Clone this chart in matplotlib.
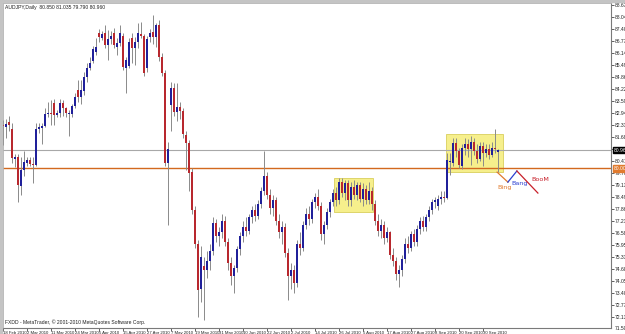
import matplotlib
matplotlib.use('Agg')
import matplotlib.pyplot as plt
from matplotlib import font_manager
from matplotlib.patches import Rectangle
from matplotlib.transforms import blended_transform_factory

# AUDJPY daily candles, 18 Feb 2010 .. early Oct 2010
title_text = 'AUDJPY,Daily  80.850 81.035 79.790 80.960'
footer_text = 'FXDD - MetaTrader, \u00a9 2001-2010 MetaQuotes Software Corp.'

opens = [
    82.30, 82.20, 82.45, 82.10, 80.50, 80.60, 79.05, 79.90, 80.30, 80.45,
    80.25, 80.20, 82.10, 82.15, 82.25, 82.90, 82.95, 83.45, 82.85, 82.95,
    83.45, 83.20, 82.90, 82.90, 83.30, 84.15, 83.80, 84.10, 84.85, 85.30,
    85.70, 86.15, 87.15, 86.90, 87.20, 86.55, 86.85, 87.20, 86.45, 86.65,
    87.00, 85.30, 85.45, 86.90, 86.40, 86.70, 87.10, 87.00, 85.30, 86.95,
    87.25, 86.95, 87.60, 85.90, 85.05, 80.30, 83.35, 84.25, 83.00, 83.25,
    83.05, 81.75, 81.35, 79.80, 77.80, 76.00, 73.60, 74.80, 74.60, 75.10,
    75.60, 77.10, 76.40, 76.60, 77.20, 76.10, 75.00, 74.30, 74.70, 75.70,
    76.40, 76.90, 76.70, 77.40, 77.80, 77.50, 78.10, 78.80, 79.60, 78.60,
    77.90, 78.30, 77.20, 76.60, 76.90, 75.50, 74.30, 74.60, 73.90, 76.00,
    75.80, 77.00, 77.60, 77.30, 78.20, 78.50, 78.00, 76.50, 77.00, 77.70,
    78.20, 78.70, 78.30, 79.30, 78.70, 79.20, 78.30, 79.00, 78.60, 79.10,
    78.40, 78.90, 78.30, 78.80, 78.10, 77.20, 76.70, 77.00, 76.30, 76.60,
    75.40, 75.10, 74.40, 74.60, 75.20, 76.00, 75.80, 76.50, 76.10, 76.80,
    77.20, 76.90, 77.40, 77.80, 78.20, 78.00, 78.40, 78.50, 78.45, 80.35,
    80.30, 81.35, 80.90, 80.10, 81.10, 81.30, 81.00, 81.40, 80.90, 80.50,
    81.20, 80.80, 81.00, 80.70, 81.10, 80.85,
]
highs = [
    82.55, 82.60, 82.80, 82.40, 80.75, 80.75, 80.60, 80.90, 80.60, 80.60,
    80.60, 82.40, 82.40, 82.40, 83.20, 83.50, 83.60, 83.70, 83.10, 83.70,
    83.60, 83.25, 83.10, 83.40, 84.00, 84.70, 84.70, 85.10, 85.60, 85.90,
    86.50, 86.90, 87.40, 87.30, 87.60, 87.35, 87.30, 87.45, 86.90, 87.60,
    87.20, 85.90, 86.90, 87.20, 86.95, 87.70, 87.75, 87.10, 87.00, 87.40,
    88.13, 87.70, 87.85, 86.10, 85.20, 81.40, 84.60, 84.50, 84.50, 83.50,
    83.20, 82.00, 81.50, 80.00, 78.00, 76.20, 75.90, 75.30, 75.60, 76.00,
    77.40, 77.30, 76.90, 77.60, 77.50, 76.30, 75.30, 74.90, 75.90, 76.60,
    77.20, 77.40, 77.60, 78.00, 78.10, 78.30, 79.00, 80.90, 79.80, 78.90,
    78.60, 78.50, 77.60, 77.20, 77.10, 75.80, 75.00, 74.90, 76.20, 76.60,
    77.20, 77.90, 78.00, 78.40, 78.70, 78.90, 78.20, 77.20, 77.90, 78.40,
    78.90, 79.00, 79.50, 79.50, 79.40, 79.40, 79.30, 79.40, 79.30, 79.30,
    79.20, 79.10, 79.30, 79.00, 78.30, 77.60, 77.30, 77.20, 76.90, 76.70,
    75.80, 75.30, 74.90, 75.40, 76.30, 76.40, 76.70, 76.80, 77.00, 77.40,
    77.50, 77.60, 78.00, 78.40, 78.50, 78.60, 78.80, 78.80, 80.80, 80.80,
    81.60, 81.60, 81.10, 81.30, 81.60, 81.55, 81.70, 81.60, 81.30, 81.40,
    81.40, 81.30, 81.30, 81.40, 82.10, 81.035,
]
lows = [
    81.25, 81.60, 82.00, 80.30, 80.05, 78.20, 78.60, 79.60, 80.10, 80.10,
    79.20, 80.10, 81.90, 81.30, 82.20, 82.70, 82.30, 82.30, 82.70, 82.70,
    82.80, 82.70, 81.70, 82.70, 83.20, 83.50, 83.40, 83.90, 84.60, 85.20,
    85.60, 86.00, 86.70, 86.80, 86.40, 85.75, 86.60, 86.40, 86.00, 86.50,
    85.20, 84.00, 85.30, 85.60, 85.50, 86.40, 86.90, 84.90, 85.10, 86.70,
    86.60, 86.43, 85.70, 84.90, 80.10, 77.00, 82.00, 82.80, 82.50, 82.60,
    81.60, 79.90, 78.80, 77.60, 75.80, 72.10, 72.90, 71.95, 74.20, 74.60,
    75.40, 76.10, 75.90, 76.30, 75.90, 74.60, 73.80, 73.40, 74.50, 75.40,
    76.10, 76.40, 76.50, 77.10, 77.20, 77.30, 77.90, 78.60, 78.40, 77.60,
    77.50, 77.00, 76.30, 76.00, 75.30, 73.00, 73.60, 73.40, 73.70, 75.40,
    75.60, 76.80, 77.00, 77.10, 77.90, 77.80, 76.20, 76.00, 76.80, 77.40,
    78.00, 78.00, 78.10, 78.50, 78.30, 78.00, 78.00, 78.40, 78.30, 78.20,
    78.00, 78.10, 78.10, 77.80, 77.00, 76.40, 76.30, 76.00, 76.10, 75.20,
    74.80, 74.10, 73.70, 74.30, 75.00, 75.50, 75.60, 75.90, 75.90, 76.50,
    76.70, 76.70, 77.20, 77.60, 77.90, 77.80, 78.10, 78.20, 78.40, 79.65,
    80.10, 80.60, 80.00, 79.95, 80.70, 80.60, 80.20, 80.70, 80.30, 80.40,
    80.10, 80.60, 80.50, 80.60, 80.80, 79.79,
]
closes = [
    82.25, 82.35, 82.30, 80.55, 80.60, 79.10, 79.90, 80.35, 80.45, 80.25,
    80.20, 82.10, 82.20, 82.25, 82.90, 82.95, 82.90, 82.85, 82.95, 83.45,
    83.20, 82.95, 82.90, 83.30, 83.80, 83.80, 84.15, 84.85, 85.30, 85.60,
    86.35, 86.45, 86.95, 87.10, 86.55, 86.85, 87.00, 86.55, 86.65, 87.15,
    85.35, 85.75, 86.70, 86.40, 86.70, 87.15, 87.00, 85.05, 86.85, 87.20,
    86.95, 87.60, 85.90, 85.05, 80.30, 81.05, 84.25, 83.00, 83.25, 83.05,
    81.80, 81.35, 79.75, 77.80, 76.00, 73.55, 75.30, 74.60, 75.10, 75.60,
    77.10, 76.40, 76.60, 77.20, 76.10, 75.00, 74.30, 74.70, 75.70, 76.40,
    76.90, 76.70, 77.40, 77.80, 77.50, 78.10, 78.80, 79.60, 78.60, 77.90,
    78.30, 77.20, 76.60, 76.90, 75.50, 74.30, 74.60, 73.90, 76.00, 75.80,
    77.00, 77.60, 77.30, 78.20, 78.50, 78.00, 76.50, 77.00, 77.70, 78.20,
    78.70, 78.30, 79.30, 78.70, 79.20, 78.30, 79.00, 78.60, 79.10, 78.40,
    78.90, 78.30, 78.80, 78.10, 77.20, 76.70, 77.00, 76.30, 76.60, 75.40,
    75.10, 74.40, 74.60, 75.20, 76.00, 75.80, 76.50, 76.10, 76.80, 77.20,
    76.90, 77.40, 77.80, 78.20, 78.30, 78.40, 78.50, 78.45, 80.45, 80.40,
    81.35, 80.90, 80.20, 81.10, 81.30, 81.00, 81.40, 80.90, 80.50, 81.20,
    80.80, 81.00, 80.70, 81.10, 81.00, 80.96,
]

date_labels = ['18 Feb 2010', '2 Mar 2010', '11 Mar 2010', '24 Mar 2010',
               '5 Apr 2010', '15 Apr 2010', '27 Apr 2010', '7 May 2010',
               '19 May 2010', '31 May 2010', '10 Jun 2010', '22 Jun 2010',
               '2 Jul 2010', '14 Jul 2010', '26 Jul 2010', '5 Aug 2010',
               '17 Aug 2010', '27 Aug 2010', '8 Sep 2010', '20 Sep 2010',
               '30 Sep 2010']
bars_per_label = 8

price_ticks = [88.675, 88.045, 87.400, 86.770, 86.140, 85.495, 84.865,
               84.220, 83.590, 82.945, 82.315, 81.685, 81.040, 80.410,
               79.765, 79.135, 78.490, 77.860, 77.215, 76.585, 75.955,
               75.310, 74.680, 74.050, 73.405, 72.775, 72.130, 71.500]

last_price = 80.960
level_price = 80.000

# highlighted consolidation zones: (first bar, last bar, low, high)
boxes = [(110.3, 123.3, 77.70, 79.50), (147.7, 166.7, 79.80, 81.82)]

# hand-drawn zigzag and its labels
zig_x = [164.7, 168.3, 171.3, 178.3]
zig_y = [79.80, 79.27, 79.86, 78.69]
zig_colors = ['#e07a2e', '#2b3fd0', '#c8202a']
note_text = ['Bing', 'Bang', 'BooM']
note_x = [164.7, 169.3, 176.0]
note_y = [78.96, 79.21, 79.42]

UP = '#20209a'
DOWN = '#b8282e'
WICK = '#8a8a8a'

installed = {f.name for f in font_manager.fontManager.ttflist}
small_font = 'Liberation Sans Narrow' if 'Liberation Sans Narrow' in installed else 'Liberation Sans'

fig = plt.figure(figsize=(6.25, 3.34), dpi=100, facecolor='white')
ax = fig.add_axes([3 / 625, 6 / 334, 608 / 625, 325 / 334])
ax.set_facecolor('white')
ax.set_xlim(0, 202.67)
ax.set_ylim(71.537, 88.765)

for (x0, x1, lo, hi) in boxes:
    ax.add_patch(Rectangle((x0, lo), x1 - x0, hi - lo, facecolor='#f6ef8c',
                           edgecolor='#d9cf5c', lw=0.6, zorder=1))

ax.axhline(last_price, color='#a8a8a8', lw=0.8, zorder=2)
ax.axhline(level_price, color='#d2691e', lw=1.0, zorder=2)

for i in range(len(opens)):
    o, h, l, c = opens[i], highs[i], lows[i], closes[i]
    ax.vlines(i, l, h, color=WICK, lw=0.7, zorder=3)
    col = UP if c >= o else DOWN
    body = max(abs(c - o), 0.05)
    ax.bar(i, body, bottom=min(o, c), width=0.62, color=col, lw=0, zorder=4)

for k in range(3):
    ax.plot(zig_x[k:k + 2], zig_y[k:k + 2], color=zig_colors[k], lw=0.9, zorder=5)
    ax.text(note_x[k], note_y[k], note_text[k], color=zig_colors[k],
            fontsize=4.6, va='center', ha='left', zorder=5)

ax.yaxis.tick_right()
ax.set_yticks(price_ticks[:-1])
ax.set_yticklabels([f'{v:.3f}' for v in price_ticks[:-1]], family=small_font)
ax.tick_params(axis='y', length=2, width=0.5, pad=1, labelsize=3.6,
               colors='#202020')
# lowest scale label sits just under the frame, as in the terminal
ax.text(1.006, price_ticks[-1], f'{price_ticks[-1]:.3f}', family=small_font,
        transform=blended_transform_factory(ax.transAxes, ax.transData),
        fontsize=3.6, va='center', ha='left', color='#202020', clip_on=False)

ax.set_xticks([k * bars_per_label for k in range(len(date_labels))])
ax.set_xticklabels(date_labels, ha='left', family=small_font)
ax.tick_params(axis='x', length=2, width=0.5, pad=0.2, labelsize=3.1,
               colors='#202020')

for side in ['right', 'bottom']:
    ax.spines[side].set_color('#7a7a7a')
    ax.spines[side].set_linewidth(0.8)
for side in ['left', 'top']:
    ax.spines[side].set_color('#b0b0b0')
    ax.spines[side].set_linewidth(0.6)

trans = blended_transform_factory(ax.transAxes, ax.transData)
ax.text(1.004, last_price, f'{last_price:.3f}', transform=trans, fontsize=3.6,
        color='white', va='center', ha='left', clip_on=False, zorder=6,
        family=small_font,
        bbox=dict(boxstyle='square,pad=0.15', fc='black', ec='black'))
ax.text(1.004, level_price, f'{level_price:.3f}', transform=trans, fontsize=3.6,
        color='white', va='center', ha='left', clip_on=False, zorder=6,
        family=small_font,
        bbox=dict(boxstyle='square,pad=0.15', fc='#e07a2e', ec='#e07a2e'))

ax.text(0.003, 0.994, title_text, transform=ax.transAxes, fontsize=3.6,
        va='top', ha='left', color='#202020', family=small_font)
ax.text(0.003, 0.008, footer_text, transform=ax.transAxes, fontsize=3.6,
        va='bottom', ha='left', color='#202020', family=small_font)

# thin window frame on the left and top
fig.patches.append(Rectangle((0, 0), 2 / 625, 1, transform=fig.transFigure,
                             color='#c4c4c4', zorder=0))
fig.patches.append(Rectangle((0, 1 - 2 / 334), 1, 2 / 334,
                             transform=fig.transFigure, color='#c4c4c4', zorder=0))

fig.savefig('out.png', dpi=100, facecolor='white')
